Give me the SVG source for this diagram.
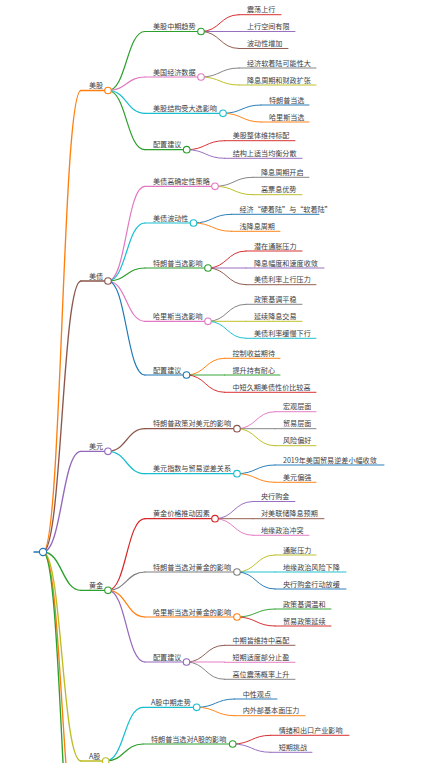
<svg xmlns="http://www.w3.org/2000/svg" width="432" height="763" viewBox="0 0 432 763">
<style>
text{font-family:"Noto Sans CJK SC","Noto Sans",sans-serif;font-size:7.1px;fill:#404040}
path{fill:none;stroke-linecap:round}
circle{fill:#fff;stroke-width:1.1}
.w1{stroke-width:1.35}.w2{stroke-width:1.2}.w3{stroke-width:0.95}
.k0{stroke:#1f77b4}.k1{stroke:#ff7f0e}.k2{stroke:#2ca02c}.k3{stroke:#d62728}.k4{stroke:#9467bd}
.k5{stroke:#8c564b}.k6{stroke:#e377c2}.k7{stroke:#7f7f7f}.k8{stroke:#bcbd22}.k9{stroke:#17becf}
</style>
<rect width="432" height="763" fill="#fff"/>
<g id="connectors">
<path class="w1 k1" d="M43,552 C62,552 62,90.5 81,90.5"/>
<path class="w1 k5" d="M43,552 C62,552 62,281 81,281"/>
<path class="w1 k4" d="M43,552 C62,552 62,451.3 81,451.3"/>
<path class="w1 k2" d="M43,552 C62,552 62,590.3 81,590.3"/>
<path class="w1 k8" d="M43,552 C62,552 62,761 81,761"/>
<path class="w1 k1" d="M43,552 C62,552 62,857 81,857"/>
<path class="w1 k2" d="M43,552 C62,552 62,933 81,933"/>
<path class="w2 k2" d="M108,90.5 C126.5,90.5 126.5,31.5 145,31.5"/>
<path class="w2 k6" d="M108,90.5 C126.5,90.5 126.5,77 145,77"/>
<path class="w2 k9" d="M108,90.5 C126.5,90.5 126.5,113.3 145,113.3"/>
<path class="w2 k2" d="M108,90.5 C126.5,90.5 126.5,149.7 145,149.7"/>
<path class="w2 k6" d="M108,281 C126.5,281 126.5,186.3 145,186.3"/>
<path class="w2 k9" d="M108,281 C126.5,281 126.5,223 145,223"/>
<path class="w2 k2" d="M108,281 C126.5,281 126.5,268 145,268"/>
<path class="w2 k6" d="M108,281 C126.5,281 126.5,321.3 145,321.3"/>
<path class="w2 k0" d="M108,281 C126.5,281 126.5,375 145,375"/>
<path class="w2 k5" d="M108,451.3 C126.5,451.3 126.5,428.7 145,428.7"/>
<path class="w2 k9" d="M108,451.3 C126.5,451.3 126.5,473.7 145,473.7"/>
<path class="w2 k3" d="M108,590.3 C126.5,590.3 126.5,518.7 145,518.7"/>
<path class="w2 k7" d="M108,590.3 C126.5,590.3 126.5,572 145,572"/>
<path class="w2 k1" d="M108,590.3 C126.5,590.3 126.5,617 145,617"/>
<path class="w2 k4" d="M108,590.3 C126.5,590.3 126.5,662 145,662"/>
<path class="w2 k9" d="M105.7,761 C124.3,761 124.3,707.3 143,707.3"/>
<path class="w2 k2" d="M105.7,761 C124.3,761 124.3,744 143,744"/>
<path class="w3 k3" d="M201,31.5 C220,31.5 220,14.7 239,14.7"/>
<path class="w3 k4" d="M201,31.5 H239"/>
<path class="w3 k5" d="M201,31.5 C220,31.5 220,48.5 239,48.5"/>
<path class="w3 k7" d="M201,77 C220,77 220,68 239,68"/>
<path class="w3 k8" d="M201,77 C220,77 220,85 239,85"/>
<path class="w3 k0" d="M223,113.3 C242,113.3 242,105 261,105"/>
<path class="w3 k1" d="M223,113.3 C242,113.3 242,122 261,122"/>
<path class="w3 k3" d="M186.7,149.7 C205.7,149.7 205.7,140.7 224.7,140.7"/>
<path class="w3 k4" d="M186.7,149.7 C205.7,149.7 205.7,158.3 224.7,158.3"/>
<path class="w3 k7" d="M215,186.3 C234,186.3 234,177.3 253,177.3"/>
<path class="w3 k8" d="M215,186.3 C234,186.3 234,194.7 253,194.7"/>
<path class="w3 k0" d="M193.5,223 C212.5,223 212.5,214.3 231.5,214.3"/>
<path class="w3 k1" d="M193.5,223 C212.5,223 212.5,231.3 231.5,231.3"/>
<path class="w3 k3" d="M208,268 C227,268 227,251 246,251"/>
<path class="w3 k4" d="M208,268 H246"/>
<path class="w3 k5" d="M208,268 C227,268 227,284.7 246,284.7"/>
<path class="w3 k7" d="M208,321.3 C227,321.3 227,304.3 246,304.3"/>
<path class="w3 k8" d="M208,321.3 H246"/>
<path class="w3 k9" d="M208,321.3 C227,321.3 227,338.3 246,338.3"/>
<path class="w3 k1" d="M186.5,375 C205.5,375 205.5,358.3 224.5,358.3"/>
<path class="w3 k2" d="M186.5,375 H224.5"/>
<path class="w3 k3" d="M186.5,375 C205.5,375 205.5,392.3 224.5,392.3"/>
<path class="w3 k6" d="M237,428.7 C256,428.7 256,411.7 275,411.7"/>
<path class="w3 k7" d="M237,428.7 H275"/>
<path class="w3 k8" d="M237,428.7 C256,428.7 256,445.7 275,445.7"/>
<path class="w3 k0" d="M237,473.7 C256,473.7 256,465 275,465"/>
<path class="w3 k1" d="M237,473.7 C256,473.7 256,482.3 275,482.3"/>
<path class="w3 k4" d="M215,518.7 C234,518.7 234,501.5 253,501.5"/>
<path class="w3 k5" d="M215,518.7 H253"/>
<path class="w3 k6" d="M215,518.7 C234,518.7 234,535.3 253,535.3"/>
<path class="w3 k8" d="M237,572 C256,572 256,555 275,555"/>
<path class="w3 k9" d="M237,572 H275"/>
<path class="w3 k0" d="M237,572 C256,572 256,589 275,589"/>
<path class="w3 k2" d="M237,617 C256,617 256,609 275,609"/>
<path class="w3 k3" d="M237,617 C256,617 256,626 275,626"/>
<path class="w3 k5" d="M186.5,662 C205.5,662 205.5,645.3 224.5,645.3"/>
<path class="w3 k6" d="M186.5,662 H224.5"/>
<path class="w3 k7" d="M186.5,662 C205.5,662 205.5,679.3 224.5,679.3"/>
<path class="w3 k0" d="M196.7,707.3 C215.7,707.3 215.7,699 234.7,699"/>
<path class="w3 k1" d="M196.7,707.3 C215.7,707.3 215.7,715.7 234.7,715.7"/>
<path class="w3 k3" d="M232.7,744 C251.7,744 251.7,735.3 270.7,735.3"/>
<path class="w3 k4" d="M232.7,744 C251.7,744 251.7,752.3 270.7,752.3"/>
</g>

<g id="n-root"><path class="w1 k0" d="M34,552H43"/><circle class="k0" cx="43" cy="552" r="3.6"/></g>

<g id="n-meigu"><path class="w1 k1" d="M81,90.5H108"/><text x="89" y="88">美股</text><circle class="k1" cx="108" cy="90.5" r="3.3"/></g>
<g id="n-meigu-trend"><path class="w2 k2" d="M145,31.5H201"/><text x="153" y="29">美股中期趋势</text><circle class="k2" cx="201" cy="31.5" r="3.3"/></g>
<g id="n-mg-t1"><path class="w3 k3" d="M239,14.7H281"/><text x="247" y="12.2">震荡上行</text></g>
<g id="n-mg-t2"><path class="w3 k4" d="M239,31.5H295"/><text x="247" y="29">上行空间有限</text></g>
<g id="n-mg-t3"><path class="w3 k5" d="M239,48.5H288"/><text x="247" y="46">波动性增加</text></g>
<g id="n-meigu-econ"><path class="w2 k6" d="M145,77H201"/><text x="153" y="74.5">美国经济数据</text><circle class="k6" cx="201" cy="77" r="3.3"/></g>
<g id="n-mg-e1"><path class="w3 k7" d="M239,68H316"/><text x="247" y="65.5">经济软着陆可能性大</text></g>
<g id="n-mg-e2"><path class="w3 k8" d="M239,85H316"/><text x="247" y="82.5">降息周期和财政扩张</text></g>
<g id="n-meigu-elect"><path class="w2 k9" d="M145,113.3H223"/><text x="153" y="110.8">美股结构受大选影响</text><circle class="k9" cx="223" cy="113.3" r="3.3"/></g>
<g id="n-mg-l1"><path class="w3 k0" d="M261,105H309"/><text x="269" y="102.5">特朗普当选</text></g>
<g id="n-mg-l2"><path class="w3 k1" d="M261,122H309"/><text x="269" y="119.5">哈里斯当选</text></g>
<g id="n-meigu-alloc"><path class="w2 k2" d="M145,149.7H186.7"/><text x="153" y="147.2">配置建议</text><circle class="k2" cx="186.7" cy="149.7" r="3.3"/></g>
<g id="n-mg-a1"><path class="w3 k3" d="M224.7,140.7H295"/><text x="232.7" y="138.2">美股整体维持标配</text></g>
<g id="n-mg-a2"><path class="w3 k4" d="M224.7,158.3H302"/><text x="232.7" y="155.8">结构上适当均衡分散</text></g>

<g id="n-meizhai"><path class="w1 k5" d="M81,281H108"/><text x="89" y="278.5">美债</text><circle class="k5" cx="108" cy="281" r="3.3"/></g>
<g id="n-mz-cert"><path class="w2 k6" d="M145,186.3H215"/><text x="153" y="183.8">美债高确定性策略</text><circle class="k6" cx="215" cy="186.3" r="3.3"/></g>
<g id="n-mz-c1"><path class="w3 k7" d="M253,177.3H309"/><text x="261" y="174.8">降息周期开启</text></g>
<g id="n-mz-c2"><path class="w3 k8" d="M253,194.7H302"/><text x="261" y="192.2">高票息优势</text></g>
<g id="n-mz-vol"><path class="w2 k9" d="M145,223H193.5"/><text x="153" y="220.5">美债波动性</text><circle class="k9" cx="193.5" cy="223" r="3.3"/></g>
<g id="n-mz-v1"><path class="w3 k0" d="M231.5,214.3H319"/><text x="239.5" y="211.8">经济“硬着陆”与“软着陆”</text></g>
<g id="n-mz-v2"><path class="w3 k1" d="M231.5,231.3H280"/><text x="239.5" y="228.8">浅降息周期</text></g>
<g id="n-mz-trump"><path class="w2 k2" d="M145,268H208"/><text x="153" y="265.5">特朗普当选影响</text><circle class="k2" cx="208" cy="268" r="3.3"/></g>
<g id="n-mz-t1"><path class="w3 k3" d="M246,251H302"/><text x="254" y="248.5">潜在通胀压力</text></g>
<g id="n-mz-t2"><path class="w3 k4" d="M246,268H324"/><text x="254" y="265.5">降息幅度和速度收敛</text></g>
<g id="n-mz-t3"><path class="w3 k5" d="M246,284.7H316"/><text x="254" y="282.2">美债利率上行压力</text></g>
<g id="n-mz-harris"><path class="w2 k6" d="M145,321.3H208"/><text x="153" y="318.8">哈里斯当选影响</text><circle class="k6" cx="208" cy="321.3" r="3.3"/></g>
<g id="n-mz-h1"><path class="w3 k7" d="M246,304.3H302"/><text x="254" y="301.8">政策基调平稳</text></g>
<g id="n-mz-h2"><path class="w3 k8" d="M246,321.3H302"/><text x="254" y="318.8">延续降息交易</text></g>
<g id="n-mz-h3"><path class="w3 k9" d="M246,338.3H316"/><text x="254" y="335.8">美债利率缓慢下行</text></g>
<g id="n-mz-alloc"><path class="w2 k0" d="M145,375H186.5"/><text x="153" y="372.5">配置建议</text><circle class="k0" cx="186.5" cy="375" r="3.3"/></g>
<g id="n-mz-a1"><path class="w3 k1" d="M224.5,358.3H280"/><text x="232.5" y="355.8">控制收益期待</text></g>
<g id="n-mz-a2"><path class="w3 k2" d="M224.5,375H280"/><text x="232.5" y="372.5">提升持有耐心</text></g>
<g id="n-mz-a3"><path class="w3 k3" d="M224.5,392.3H316"/><text x="232.5" y="389.8">中短久期美债性价比较高</text></g>

<g id="n-meiyuan"><path class="w1 k4" d="M81,451.3H108"/><text x="89" y="448.8">美元</text><circle class="k4" cx="108" cy="451.3" r="3.3"/></g>
<g id="n-my-policy"><path class="w2 k5" d="M145,428.7H237"/><text x="153" y="426.2">特朗普政策对美元的影响</text><circle class="k5" cx="237" cy="428.7" r="3.3"/></g>
<g id="n-my-p1"><path class="w3 k6" d="M275,411.7H316"/><text x="283" y="409.2">宏观层面</text></g>
<g id="n-my-p2"><path class="w3 k7" d="M275,428.7H316"/><text x="283" y="426.2">贸易层面</text></g>
<g id="n-my-p3"><path class="w3 k8" d="M275,445.7H316"/><text x="283" y="443.2">风险偏好</text></g>
<g id="n-my-index"><path class="w2 k9" d="M145,473.7H237"/><text x="153" y="471.2">美元指数与贸易逆差关系</text><circle class="k9" cx="237" cy="473.7" r="3.3"/></g>
<g id="n-my-i1"><path class="w3 k0" d="M275,465H384"/><text x="283" y="462.5">2019年美国贸易逆差小幅收敛</text></g>
<g id="n-my-i2"><path class="w3 k1" d="M275,482.3H316"/><text x="283" y="479.8">美元偏强</text></g>

<g id="n-huangjin"><path class="w1 k2" d="M81,590.3H108"/><text x="89" y="587.8">黄金</text><circle class="k2" cx="108" cy="590.3" r="3.3"/></g>
<g id="n-hj-drive"><path class="w2 k3" d="M145,518.7H215"/><text x="153" y="516.2">黄金价格推动因素</text><circle class="k3" cx="215" cy="518.7" r="3.3"/></g>
<g id="n-hj-d1"><path class="w3 k4" d="M253,501.5H295"/><text x="261" y="499">央行购金</text></g>
<g id="n-hj-d2"><path class="w3 k5" d="M253,518.7H324"/><text x="261" y="516.2">对美联储降息预期</text></g>
<g id="n-hj-d3"><path class="w3 k6" d="M253,535.3H309"/><text x="261" y="532.8">地缘政治冲突</text></g>
<g id="n-hj-trump"><path class="w2 k7" d="M145,572H237"/><text x="153" y="569.5">特朗普当选对黄金的影响</text><circle class="k7" cx="237" cy="572" r="3.3"/></g>
<g id="n-hj-t1"><path class="w3 k8" d="M275,555H316"/><text x="283" y="552.5">通胀压力</text></g>
<g id="n-hj-t2"><path class="w3 k9" d="M275,572H346"/><text x="283" y="569.5">地缘政治风险下降</text></g>
<g id="n-hj-t3"><path class="w3 k0" d="M275,589H346"/><text x="283" y="586.5">央行购金行动放缓</text></g>
<g id="n-hj-harris"><path class="w2 k1" d="M145,617H237"/><text x="153" y="614.5">哈里斯当选对黄金的影响</text><circle class="k1" cx="237" cy="617" r="3.3"/></g>
<g id="n-hj-h1"><path class="w3 k2" d="M275,609H331"/><text x="283" y="606.5">政策基调温和</text></g>
<g id="n-hj-h2"><path class="w3 k3" d="M275,626H331"/><text x="283" y="623.5">贸易政策延续</text></g>
<g id="n-hj-alloc"><path class="w2 k4" d="M145,662H186.5"/><text x="153" y="659.5">配置建议</text><circle class="k4" cx="186.5" cy="662" r="3.3"/></g>
<g id="n-hj-a1"><path class="w3 k5" d="M224.5,645.3H295"/><text x="232.5" y="642.8">中期皆维持中高配</text></g>
<g id="n-hj-a2"><path class="w3 k6" d="M224.5,662.3H295"/><text x="232.5" y="659.8">短期适度部分止盈</text></g>
<g id="n-hj-a3"><path class="w3 k7" d="M224.5,679.3H295"/><text x="232.5" y="676.8">高位震荡概率上升</text></g>

<g id="n-agu"><path class="w1 k8" d="M81,761H105.7"/><text x="89" y="758.5">A股</text><circle class="k8" cx="105.7" cy="761" r="3.3"/></g>
<g id="n-ag-trend"><path class="w2 k9" d="M143,707.3H196.7"/><text x="151" y="704.8">A股中期走势</text><circle class="k9" cx="196.7" cy="707.3" r="3.3"/></g>
<g id="n-ag-t1"><path class="w3 k0" d="M234.7,699H277"/><text x="242.7" y="696.5">中性观点</text></g>
<g id="n-ag-t2"><path class="w3 k1" d="M234.7,715.7H305"/><text x="242.7" y="713.2">内外部基本面压力</text></g>
<g id="n-ag-trump"><path class="w2 k2" d="M143,744H232.7"/><text x="151" y="741.5">特朗普当选对A股的影响</text><circle class="k2" cx="232.7" cy="744" r="3.3"/></g>
<g id="n-ag-r1"><path class="w3 k3" d="M270.7,735.3H349"/><text x="278.7" y="732.8">情绪和出口产业影响</text></g>
<g id="n-ag-r2"><path class="w3 k4" d="M270.7,752.3H312"/><text x="278.7" y="749.8">短期挑战</text></g>
</svg>
